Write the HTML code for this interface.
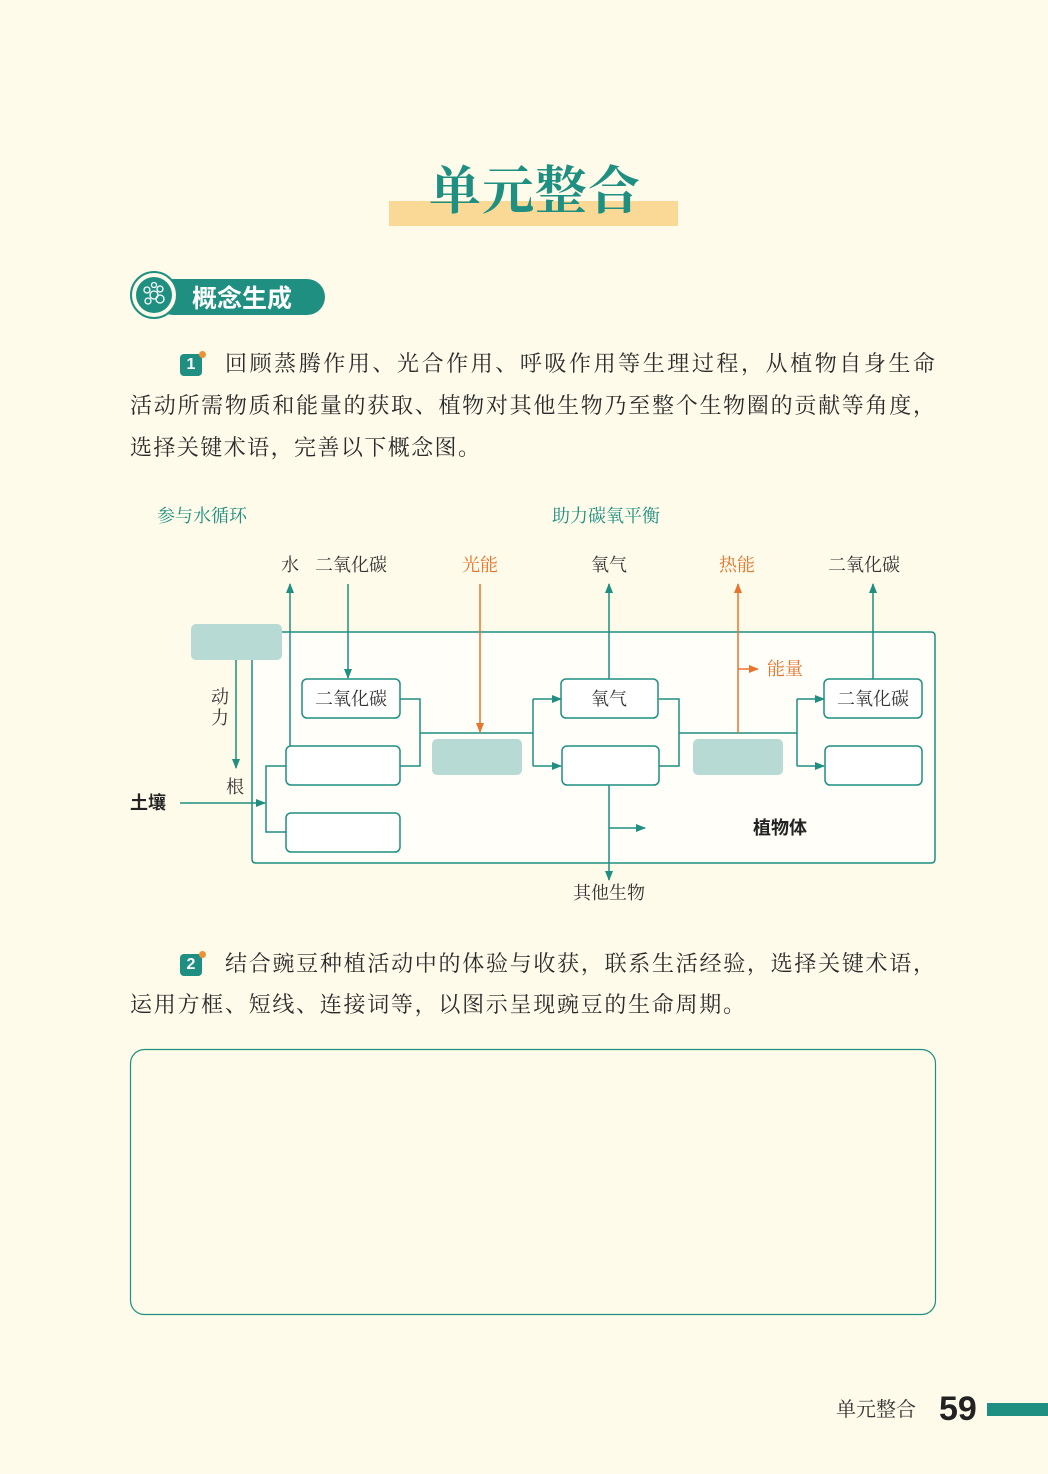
<!DOCTYPE html>
<html><head><meta charset="utf-8"><style>
body{margin:0;background:#fefbea;}
#p{position:relative;width:1048px;height:1474px;overflow:hidden;background:#fefbea;font-family:"Liberation Serif","Noto Serif CJK SC",serif;}
.a{position:absolute;white-space:nowrap;}
.txt{font-size:22px;color:#2a2a2a;line-height:42px;text-align:justify;text-align-last:justify;white-space:normal;}
</style></head><body><div id="p">
<div class="a" style="left:389px;top:201px;width:289px;height:25px;background:#f9d995"></div>
<div class="a" style="left:429px;top:153px;font-size:52px;font-weight:bold;color:#1e8f80;letter-spacing:1px;font-family:'Noto Serif CJK SC',serif;line-height:68px">单元整合</div>

<div class="a" style="left:155px;top:279px;width:170px;height:36px;background:#1e8f80;border-radius:18px"></div>
<div class="a" style="left:130px;top:271px;width:48px;height:48px;border-radius:50%;background:#fefbea;border:2px solid #1e8f80;box-sizing:border-box"></div>
<div class="a" style="left:136px;top:277px;width:36px;height:36px;border-radius:50%;background:#1e8f80"></div>
<svg class="a" style="left:136px;top:277px" width="36" height="36"><g fill="none" stroke="#fff" stroke-width="1.3"><circle cx="18" cy="18" r="4"/><circle cx="11" cy="13" r="3"/><circle cx="24" cy="12" r="3"/><circle cx="24" cy="22" r="4"/><circle cx="12" cy="24" r="3"/><circle cx="18" cy="8" r="2.5"/></g></svg>
<div class="a" style="left:192px;top:280px;font-size:25px;font-weight:bold;color:#fff;font-family:'Noto Sans CJK SC',sans-serif;line-height:34px">概念生成</div>

<div class="a" style="left:180px;top:354px;width:22px;height:22px;background:#1e8f80;border-radius:4px;color:#fff;font:bold 16px 'Liberation Sans',sans-serif;text-align:center;line-height:22px">1</div>
<div class="a" style="left:199px;top:351px;width:7px;height:7px;border-radius:50%;background:#f0913a"></div>
<div class="a txt" style="left:225px;top:343px;width:710px">回顾蒸腾作用、光合作用、呼吸作用等生理过程，从植物自身生命</div>
<div class="a txt" style="left:130px;top:385px;width:805px">活动所需物质和能量的获取、植物对其他生物乃至整个生物圈的贡献等角度，</div>
<div class="a txt" style="left:130px;top:427px;width:350px">选择关键术语，完善以下概念图。</div>

<svg class="a" style="left:0;top:0" width="1048" height="1474" font-family="Liberation Serif,Noto Serif CJK SC,serif">
<defs>
<marker id="t" markerWidth="10" markerHeight="10" refX="9" refY="5" orient="auto" markerUnits="userSpaceOnUse"><path d="M0,1L10,5L0,9z" fill="#1e8f80"/></marker>
<marker id="o" markerWidth="10" markerHeight="10" refX="9" refY="5" orient="auto" markerUnits="userSpaceOnUse"><path d="M0,1L10,5L0,9z" fill="#e8742c"/></marker>
</defs>
<g fill="none" stroke="#1e8f80" stroke-width="1.5">
<path d="M282,632H931Q935,632 935,636V859Q935,863 931,863H256Q252,863 252,859V660" fill="#fffef8"/>
<rect x="302" y="679" width="98" height="39" rx="5" fill="#fff"/>
<rect x="286" y="746" width="114" height="39" rx="5" fill="#fff"/>
<rect x="286" y="813" width="114" height="39" rx="5" fill="#fff"/>
<rect x="561" y="679" width="97" height="39" rx="5" fill="#fff"/>
<rect x="562" y="746" width="97" height="39" rx="5" fill="#fff"/>
<rect x="824" y="679" width="98" height="39" rx="5" fill="#fff"/>
<rect x="825" y="746" width="97" height="39" rx="5" fill="#fff"/>
<path d="M236,660V768" marker-end="url(#t)"/>
<path d="M180,803H265" marker-end="url(#t)"/>
<path d="M286,766H266V832H286"/>
<path d="M290,746V584" marker-end="url(#t)"/>
<path d="M348,584V678" marker-end="url(#t)"/>
<path d="M400,699H420V766H400M420,733H533M533,699V766"/>
<path d="M533,699H561" marker-end="url(#t)"/>
<path d="M533,766H561" marker-end="url(#t)"/>
<path d="M609,679V584" marker-end="url(#t)"/>
<path d="M659,699H679V766H659M679,733H797V766M797,699V733"/>
<path d="M797,699H824" marker-end="url(#t)"/>
<path d="M797,766H824" marker-end="url(#t)"/>
<path d="M873,679V584" marker-end="url(#t)"/>
<path d="M609,785V880" marker-end="url(#t)"/>
<path d="M609,828H645" marker-end="url(#t)"/>
</g>
<rect x="191" y="624" width="91" height="36" rx="5" fill="#b7dad4"/>
<rect x="432" y="739" width="90" height="36" rx="5" fill="#b7dad4"/>
<rect x="693" y="739" width="90" height="36" rx="5" fill="#b7dad4"/>
<g fill="none" stroke="#e8742c" stroke-width="1.5">
<path d="M480,584V732" marker-end="url(#o)"/>
<path d="M738,733V584" marker-end="url(#o)"/>
<path d="M738,669H758" marker-end="url(#o)"/>
</g>
<g font-size="18" text-anchor="middle">
<text x="202" y="522" fill="#1e8f80">参与水循环</text>
<text x="606" y="522" fill="#1e8f80">助力碳氧平衡</text>
<text x="290" y="571" fill="#333">水</text>
<text x="351" y="571" fill="#333">二氧化碳</text>
<text x="480" y="571" fill="#e8742c">光能</text>
<text x="609" y="571" fill="#333">氧气</text>
<text x="737" y="571" fill="#e8742c">热能</text>
<text x="864" y="571" fill="#333">二氧化碳</text>
<text x="785" y="675" fill="#e8742c">能量</text>
<text x="220" y="703" fill="#333">动</text>
<text x="220" y="724" fill="#333">力</text>
<text x="235" y="793" fill="#333">根</text>
<text x="609" y="899" fill="#333">其他生物</text>
<text x="351" y="705" fill="#333">二氧化碳</text>
<text x="609" y="705" fill="#333">氧气</text>
<text x="873" y="705" fill="#333">二氧化碳</text>
</g>
<text x="130" y="809" font-size="18" font-weight="bold" fill="#222" font-family="Noto Sans CJK SC,sans-serif">土壤</text>
<text x="753" y="834" font-size="18" font-weight="bold" fill="#222" font-family="Noto Sans CJK SC,sans-serif">植物体</text>
<rect x="130.5" y="1049.5" width="805" height="265" rx="14" fill="none" stroke="#1e8f80" stroke-width="1.2"/>
</svg>

<div class="a" style="left:180px;top:954px;width:22px;height:22px;background:#1e8f80;border-radius:4px;color:#fff;font:bold 16px 'Liberation Sans',sans-serif;text-align:center;line-height:22px">2</div>
<div class="a" style="left:199px;top:951px;width:7px;height:7px;border-radius:50%;background:#f0913a"></div>
<div class="a txt" style="left:225px;top:943px;width:710px">结合豌豆种植活动中的体验与收获，联系生活经验，选择关键术语，</div>
<div class="a txt" style="left:130px;top:984px;width:615px">运用方框、短线、连接词等，以图示呈现豌豆的生命周期。</div>

<div class="a" style="left:836px;top:1396px;font-size:20px;color:#333;line-height:28px">单元整合</div>
<div class="a" style="left:939px;top:1388px;font:bold 34px 'Liberation Sans',sans-serif;color:#222;line-height:42px">59</div>
<div class="a" style="left:987px;top:1403px;width:61px;height:13px;background:#1e8f80"></div>
</div></body></html>
